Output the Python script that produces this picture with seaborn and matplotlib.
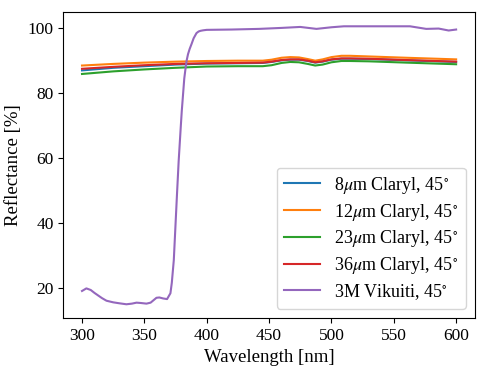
import numpy as np
import pandas as pd
import matplotlib
matplotlib.use("Agg")
import matplotlib.pyplot as plt
import seaborn as sns

plt.rcParams['font.family'] = ['Liberation Serif', 'DejaVu Serif']
plt.rcParams['mathtext.fontset'] = 'stix'

# Claryl samples
wl_claryl = [300, 325, 350, 375, 400, 425, 445, 452, 460, 467, 474, 481, 487, 493, 500, 508,
             515, 530, 560, 600]
claryl_8 = [87.0, 87.8, 88.3, 88.8, 89.1, 89.2, 89.3, 89.6, 90.1, 90.3, 90.3, 89.9, 89.4,
            89.7, 90.3, 90.6, 90.6, 90.5, 90.1, 89.6]
claryl_12 = [88.5, 89.0, 89.4, 89.7, 89.9, 90.0, 90.0, 90.3, 90.9, 91.1, 91.0, 90.5, 90.0,
             90.4, 91.1, 91.5, 91.5, 91.3, 90.9, 90.4]
claryl_23 = [85.9, 86.7, 87.3, 87.8, 88.2, 88.3, 88.3, 88.6, 89.3, 89.6, 89.5, 89.0, 88.5,
             88.8, 89.5, 89.9, 89.9, 89.8, 89.4, 88.9]
claryl_36 = [87.5, 88.1, 88.6, 89.0, 89.2, 89.3, 89.4, 89.7, 90.2, 90.4, 90.4, 90.0, 89.5,
             89.8, 90.4, 90.7, 90.7, 90.6, 90.2, 89.7]

# 3M Vikuiti samples
wl_vik = [300, 303.5, 307, 310, 313, 316, 319.6, 325, 330, 335.6, 340, 343.7, 347, 351.7, 355,
          359.7, 362, 365, 368.2, 370.9, 372, 373.6, 374.8, 376.2, 377.5, 379.2, 380, 381.1,
          382, 383.2, 384, 385, 386.3, 387.8, 389.5, 391.8, 393.5, 395, 397, 400, 420, 442,
          460, 475, 488, 500, 510, 530, 563, 576, 586, 594, 600]
vikuiti = [19.0, 19.8, 19.3, 18.4, 17.6, 16.8, 16.0, 15.5, 15.2, 14.9, 15.1, 15.4, 15.3, 15.1,
           15.4, 16.9, 17.0, 16.7, 16.5, 18.3, 21.5, 28.5, 38.0, 49.1, 59.0, 69.7, 74.5, 80.0,
           84.5, 88.2, 90.2, 92.0, 93.6, 95.1, 96.9, 98.5, 99.0, 99.2, 99.35, 99.5, 99.6, 99.8,
           100.1, 100.4, 99.8, 100.3, 100.6, 100.6, 100.6, 99.8, 99.9, 99.3, 99.6]

labels = [r'8$\mu$m Claryl, 45$^{\circ}$', r'12$\mu$m Claryl, 45$^{\circ}$',
          r'23$\mu$m Claryl, 45$^{\circ}$', r'36$\mu$m Claryl, 45$^{\circ}$',
          r'3M Vikuiti, 45$^{\circ}$']

frames = []
for lab, vals in zip(labels[:4], [claryl_8, claryl_12, claryl_23, claryl_36]):
    frames.append(pd.DataFrame({'wl': wl_claryl, 'R': vals, 'sample': lab}))
frames.append(pd.DataFrame({'wl': wl_vik, 'R': vikuiti, 'sample': labels[4]}))
df = pd.concat(frames, ignore_index=True)

fs = 13.5
fig = plt.figure(figsize=(4.87, 3.74), dpi=100)
ax = fig.add_axes([0.130, 0.150, 0.845, 0.817])
sns.lineplot(data=df, x='wl', y='R', hue='sample', hue_order=labels,
             palette=sns.color_palette('tab10', 5), linewidth=1.5, ax=ax,
             estimator=None, sort=True)
ax.set_xlabel('Wavelength [nm]', fontsize=fs)
ax.set_ylabel('Reflectance [%]', fontsize=fs)
ax.set_xticks([300, 350, 400, 450, 500, 550, 600])
ax.set_yticks([20, 40, 60, 80, 100])
ax.tick_params(labelsize=12.5)
ax.set_xlim(285, 615)
ax.set_ylim(10.7, 104.9)
leg = ax.legend(loc='lower right', fontsize=13, title=None, labelspacing=0.32)
fig.savefig('out.png', dpi=100)
